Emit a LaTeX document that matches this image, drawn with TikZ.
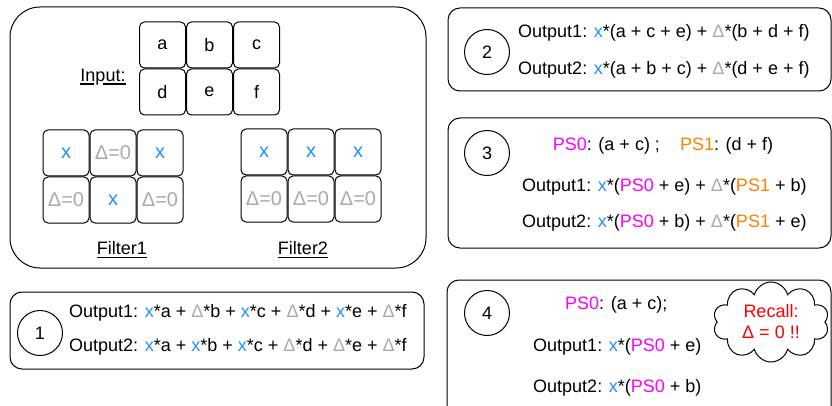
\documentclass[tikz,border=0pt]{standalone}
\usepackage{fontspec}
\setmainfont{Liberation Sans}
\usetikzlibrary{calc,shapes.symbols}
\definecolor{xblue}{RGB}{30,144,255}
\definecolor{dgray}{RGB}{170,170,170}
\definecolor{psmag}{RGB}{255,0,255}
\definecolor{psorg}{RGB}{255,128,0}
\newcommand{\Xw}{\textcolor{xblue}{x}}
\newcommand{\Dg}{\textcolor{dgray}{Δ}}
\newcommand{\Pzero}{\textcolor{psmag}{PS0}}
\newcommand{\Pone}{\textcolor{psorg}{PS1}}
\tikzset{
    txt/.style={font=\fontsize{18}{21}\selectfont, inner sep=0pt},
    lbl/.style={font=\fontsize{18}{21}\selectfont, inner sep=0pt},
    uline/.style={line width=1.8pt},
    cell/.style={draw, line width=1pt, rounded corners=5pt, minimum size=46pt, inner sep=0pt, font=\fontsize{18}{21}\selectfont},
    fcell/.style={cell, font=\fontsize{20}{23}\selectfont},
    panel/.style={draw, line width=1pt, rounded corners=12pt},
    stepno/.style={draw, circle, line width=1pt, minimum size=45pt, inner sep=0pt, font=\fontsize{18}{21}\selectfont}
}
\begin{document}
\begin{tikzpicture}[x=1pt,y=-1pt]
			\useasboundingbox (0,0) rectangle (832,406);
			\clip (0,0) rectangle (832,406);

			%input and filters
			\draw[panel, rounded corners=30pt] (10,7) rectangle (426,268);
			\node[lbl] (inlabel) at (103,77) {Input:};
			\draw[uline] ($(inlabel.base west)+(0,2.5)$) -- ++(14,0);
			\draw[uline] ($(inlabel.base west)+(23,2.5)$) -- ($(inlabel.base east)+(0,2.5)$);
			\node[cell] (a) at (162.5,45) {a};
			\node[cell] (b) at ($(a)+(47,0)$) {b};
			\node[cell] (c) at ($(b)+(47,0)$) {c};
			\node[cell] (d) at ($(a)+(0,47)$) {d};
			\node[cell] (e) at ($(d)+(47,0)$) {e};
			\node[cell] (f) at ($(e)+(47,0)$) {f};

			\node[fcell] (fa1) at (66,153) {\Xw};
			\node[fcell] (fb1) at ($(fa1)+(47,0)$) {\Dg\textcolor{dgray}{=0}};
			\node[fcell] (fc1) at ($(fb1)+(47,0)$) {\Xw};
			\node[fcell] (fd1) at ($(fa1)+(0,47)$) {\Dg\textcolor{dgray}{=0}};
			\node[fcell] (fe1) at ($(fd1)+(47,0)$) {\Xw};
			\node[fcell] (ff1) at ($(fe1)+(47,0)$) {\Dg\textcolor{dgray}{=0}};
			\node[lbl] (filt1) at (122,248) {Filter1};
			\draw[uline] ($(filt1.base west)+(0,3)$) -- ($(filt1.base east)+(0,3)$);

			\node[fcell] (fa2) at (264,152) {\Xw};
			\node[fcell] (fb2) at ($(fa2)+(47,0)$) {\Xw};
			\node[fcell] (fc2) at ($(fb2)+(47,0)$) {\Xw};
			\node[fcell] (fd2) at ($(fa2)+(0,47)$) {\Dg\textcolor{dgray}{=0}};
			\node[fcell] (fe2) at ($(fd2)+(47,0)$) {\Dg\textcolor{dgray}{=0}};
			\node[fcell] (ff2) at ($(fe2)+(47,0)$) {\Dg\textcolor{dgray}{=0}};
			\node[lbl] (filt2) at (303,248) {Filter2};
			\draw[uline] ($(filt2.base west)+(0,3)$) -- ($(filt2.base east)+(0,3)$);

			%step 1
			\draw[panel] (10,292) rectangle (424,369);
			\node[stepno] (s1) at (40,333) {1};
			\node[txt, anchor=west] (o11) at (69,313) {Output1: \Xw*a + \Dg*b + \Xw*c + \Dg*d + \Xw*e + \Dg*f};
			\node[txt, anchor=west] (o12) at (69,347) {Output2: \Xw*a + \Xw*b + \Xw*c + \Dg*d + \Dg*e + \Dg*f};

			%step 2
			\draw[panel] (448,8) rectangle (831,91);
			\node[stepno] (s2) at (487,52) {2};
			\node[txt, anchor=west] (o21) at (518,33) {Output1: \Xw*(a + c + e) + \Dg*(b + d + f)};
			\node[txt, anchor=west] (o22) at (518,70) {Output2: \Xw*(a + b + c) + \Dg*(d + e + f)};

			%step 3
			\draw[panel] (448,118) rectangle (831,248);
			\node[stepno] (s3) at (487,153) {3};
			\node[txt] (ps3) at (663,146) {\Pzero: (a + c) ; \hspace{15pt}\Pone: (d + f)};
			\node[txt, anchor=west] (o31) at (522,187) {Output1: \Xw*(\Pzero{} + e) + \Dg*(\Pone{} + b)};
			\node[txt, anchor=west] (o32) at (522,223) {Output2: \Xw*(\Pzero{} + b) + \Dg*(\Pone{} + e)};

			%step 4
			\draw[panel] (447,280) rectangle (831,420);
			\node[stepno] (s4) at (487,313) {4};
			\node[txt, anchor=west] (ps4) at (565,305) {\Pzero: (a + c);};
			\node[txt, anchor=west] (o41) at (533,347) {Output1: \Xw*(\Pzero{} + e)};
			\node[txt, anchor=west] (o42) at (533,388) {Output2: \Xw*(\Pzero{} + b)};
			\node[cloud, draw, line width=1pt, cloud puffs=10, aspect=1.4, minimum width=116pt, minimum height=80pt, inner sep=0pt, align=center, text=red, font=\fontsize{18}{21}\selectfont] (recall) at (771,322) {Recall:\\Δ = 0 !!};

		\end{tikzpicture}
\end{document}
